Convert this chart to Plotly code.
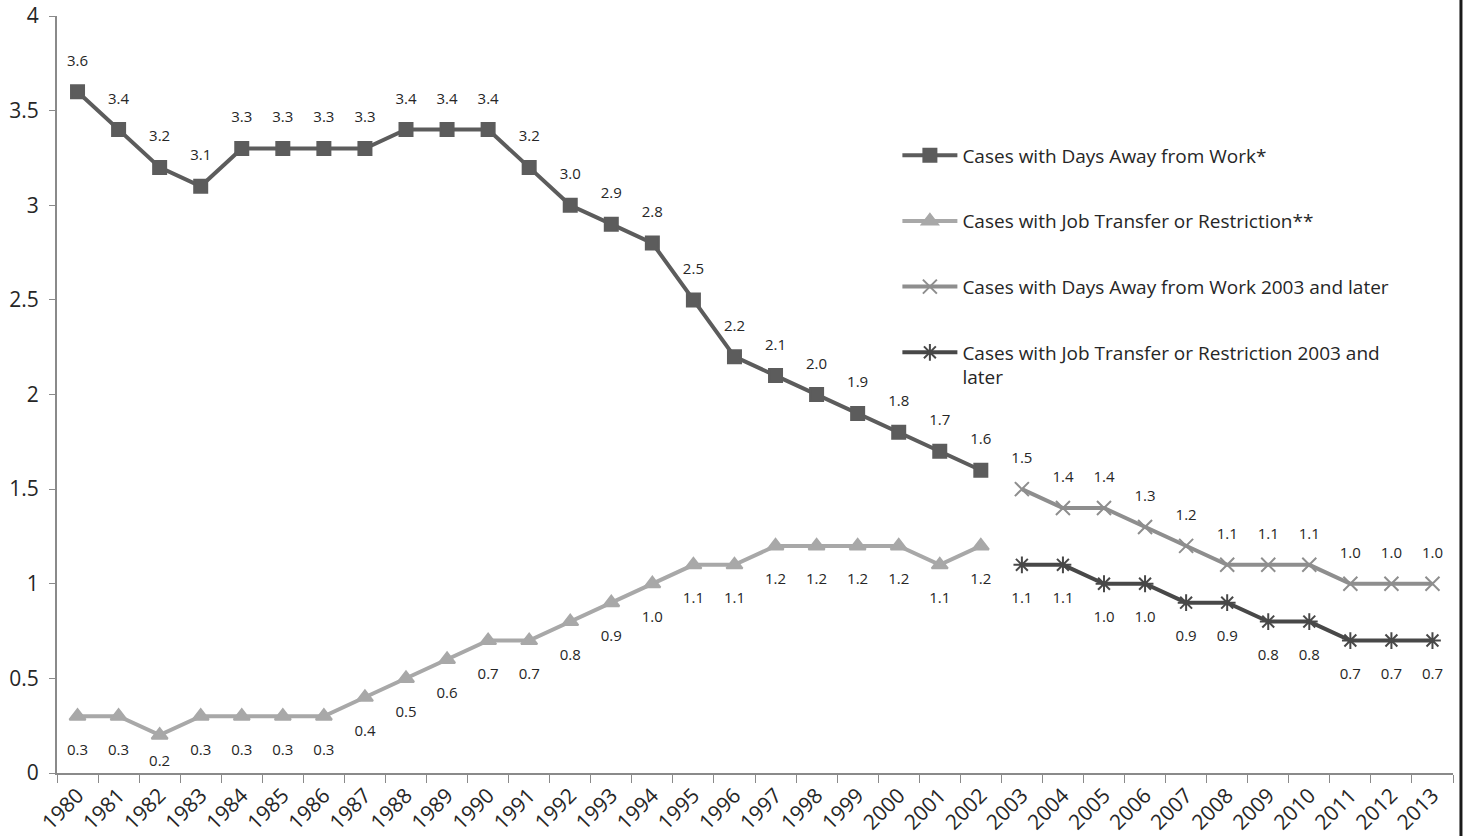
import plotly.graph_objects as go

years = [str(y) for y in range(1980, 2014)]
years_early = years[:23]   # 1980-2002
years_late = years[23:]    # 2003-2013

days_away = [3.6, 3.4, 3.2, 3.1, 3.3, 3.3, 3.3, 3.3, 3.4, 3.4, 3.4, 3.2, 3.0, 2.9,
             2.8, 2.5, 2.2, 2.1, 2.0, 1.9, 1.8, 1.7, 1.6]
job_transfer = [0.3, 0.3, 0.2, 0.3, 0.3, 0.3, 0.3, 0.4, 0.5, 0.6, 0.7, 0.7, 0.8, 0.9,
                1.0, 1.1, 1.1, 1.2, 1.2, 1.2, 1.2, 1.1, 1.2]
days_away_late = [1.5, 1.4, 1.4, 1.3, 1.2, 1.1, 1.1, 1.1, 1.0, 1.0, 1.0]
job_transfer_late = [1.1, 1.1, 1.0, 1.0, 0.9, 0.9, 0.8, 0.8, 0.7, 0.7, 0.7]

names = [
    "Cases with Days Away from Work*",
    "Cases with Job Transfer or Restriction**",
    "Cases with Days Away from Work 2003 and later",
    "Cases with Job Transfer or Restriction 2003 and<br>later",
]

FONT = "Open Sans"
TEXT = "#262626"

# (x, y, name, colour, marker, marker size, label above?)
series = [
    (years_early, days_away, names[0], "#5c5c5c", "square", 13, True),
    (years_early, job_transfer, names[1], "#a8a8a8", "triangle-up", 14, False),
    (years_late, days_away_late, names[2], "#8e8e8e", "x-thin-open", 14, True),
    (years_late, job_transfer_late, names[3], "#484848", "asterisk-open", 14, False),
]

fig = go.Figure()
for i, (xs, ys, name, color, symbol, msize, above) in enumerate(series):
    fig.add_trace(go.Scatter(
        x=xs, y=ys, name=name, mode="lines+markers",
        line=dict(color=color, width=4),
        marker=dict(symbol=symbol, size=msize, color=color,
                    line=dict(color=color, width=2)),
        legendgroup=f"g{i}",
    ))


def label_gap(value, above):
    # an invisible marker of this size sets how far the label sits from the point;
    # labels under points close to the x axis are pulled in so they stay above it
    if above:
        return 34
    return 30 if value < 0.25 else 42


for i, (xs, ys, name, color, symbol, msize, above) in enumerate(series):
    fig.add_trace(go.Scatter(
        x=xs, y=ys, mode="markers+text", showlegend=False, hoverinfo="skip",
        text=[f"{v:.1f}" for v in ys],
        textposition="top center" if above else "bottom center",
        textfont=dict(family=FONT, size=15, color=TEXT),
        marker=dict(size=[label_gap(v, above) for v in ys], color="rgba(0,0,0,0)",
                    opacity=0, line=dict(width=0)),
        cliponaxis=False,
    ))

# right-hand frame line
fig.add_shape(type="line", xref="paper", yref="paper",
              x0=1.0057, x1=1.0057, y0=-0.09, y1=1.03,
              line=dict(color="#1a1a1a", width=3))

fig.update_layout(
    width=1467, height=836,
    margin=dict(l=57, r=14, t=16, b=63),
    paper_bgcolor="white", plot_bgcolor="white",
    font=dict(family=FONT, color=TEXT),
    showlegend=True,
    legend=dict(x=0.602, y=0.841, xanchor="left", yanchor="top",
                bgcolor="rgba(0,0,0,0)", font=dict(family=FONT, size=19, color=TEXT),
                tracegroupgap=38, itemwidth=55, valign="top"),
    xaxis=dict(type="category", categoryorder="array", categoryarray=years,
               range=[-0.5, len(years) - 0.5], automargin=False,
               showline=True, linecolor="#8a8a8a", linewidth=2,
               ticks="outside", tickson="boundaries", ticklen=8, tickcolor="#8a8a8a",
               tickangle=-45, tickfont=dict(family=FONT, size=21, color=TEXT),
               showgrid=False, zeroline=False),
    yaxis=dict(range=[0, 4], dtick=0.5, automargin=False,
               showline=True, linecolor="#8a8a8a", linewidth=2,
               ticks="outside", ticklen=6, tickcolor="#8a8a8a", ticklabelstandoff=6,
               tickfont=dict(family=FONT, size=21, color=TEXT),
               showgrid=False, zeroline=False),
)

fig.write_html("out.html")
